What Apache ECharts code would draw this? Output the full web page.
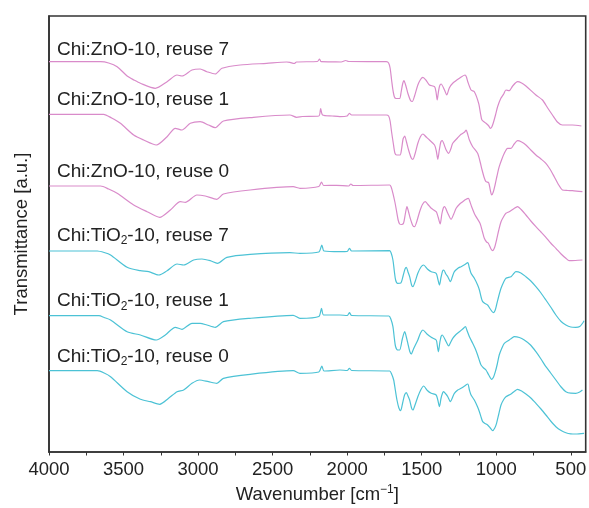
<!DOCTYPE html>
<html>
<head>
<meta charset="utf-8">
<script src="https://cdn.jsdelivr.net/npm/echarts@6/dist/echarts.min.js"></script>
<style>
  html, body { margin: 0; padding: 0; background: #fff; }
  #chart { width: 589px; height: 508px; }
</style>
</head>
<body>
<div id="chart"></div>
<script>
// Tick labels (wavenumber, cm^-1)
const majorTicks = [4000, 3500, 3000, 2500, 2000, 1500, 1000, 500];
const allTicks = [4000, 3750, 3500, 3250, 3000, 2750, 2500, 2250, 2000, 1750, 1500, 1250, 1000, 750, 500];

// Series labels
const seriesNames = [
  'Chi:ZnO-10, reuse 7',
  'Chi:ZnO-10, reuse 1',
  'Chi:ZnO-10, reuse 0',
  'Chi:TiO{sub|2}-10, reuse 7',
  'Chi:TiO{sub|2}-10, reuse 1',
  'Chi:TiO{sub|2}-10, reuse 0'
];

// Spectra: [wavenumber, transmittance (a.u., offset-stacked)]
const zno7 = [[4000,390.3],[3654,390.3],[3600,389],[3543,385.3],[3476,376],[3430,372],[3387,368.7],[3287,363.7],[3208,370.3],[3141,377],[3108,376],[3041,382],[2986,383],[2941,380.3],[2885,378],[2840,383.7],[2718,387],[2540,388.7],[2406,390],[2384,389.7],[2355,388.5],[2340,390],[2200,390.5],[2185,393],[2175,390.3],[2100,390.2],[2040,390],[2010,391.5],[1990,390.5],[1737,390.3],[1722,389],[1712,384],[1702,372],[1693,362],[1683,355],[1672,353.5],[1648,353.5],[1638,360],[1628,368],[1619,371.3],[1606,366],[1593,358.7],[1575,351.5],[1563,350.5],[1548,356],[1526,367],[1508,372.5],[1492,374.7],[1470,371.5],[1448,367],[1414,365.3],[1404,360],[1396,352],[1388,360],[1380,366],[1370,368],[1347,362],[1332,357],[1315,364],[1292,368.7],[1247,373.7],[1209,377],[1200,375],[1191,370.3],[1169,362],[1147,360.3],[1118,348.7],[1105,338],[1096,332],[1069,328.7],[1050,326],[1040,323.7],[1030,325],[1020,329],[1005,337],[991,345.3],[969,353.7],[950,358],[935,362],[913,361.3],[890,366],[857,370.3],[830,369],[801,366],[734,357],[690,352],[655,344],[623,337],[590,330],[556,327],[489,327],[429,326]];

const zno1 = [[4000,337.7],[3634,337.7],[3580,334],[3521,328.7],[3432,317],[3365,312],[3280,307],[3208,315.3],[3153,323.7],[3108,322],[3052,328.7],[2986,330.3],[2930,327],[2885,324.3],[2830,331],[2629,334.7],[2384,337],[2339,334.7],[2300,335.5],[2190,336],[2178,343.5],[2165,337],[2100,336],[2049,335.3],[2000,336],[1985,338.7],[1970,337],[1737,337],[1722,336],[1712,331],[1702,320],[1690,308],[1680,299],[1668,297],[1645,297],[1635,303],[1625,313],[1614,316],[1602,310],[1588,302],[1570,294],[1559,292.7],[1545,298],[1526,308.7],[1508,315.5],[1492,318],[1470,315],[1448,312],[1414,307],[1402,301],[1392,292.7],[1382,302],[1372,310],[1363,311.3],[1336,302],[1319,298.7],[1305,303],[1292,308.7],[1260,314],[1236,317.7],[1212,320],[1202,322],[1192,318],[1180,312],[1158,305.3],[1125,298.7],[1108,290],[1095,282],[1080,274],[1069,270.3],[1051,269.3],[1040,262],[1031,257],[1020,260],[1008,267],[995,276],[980,285.3],[962,293],[946,298.7],[924,303.7],[901,303.7],[880,308],[857,311.3],[830,310],[801,307],[768,302],[734,297],[700,293],[667,288.7],[640,283],[611,275.3],[585,268],[556,262],[520,261.5],[489,261.3],[422,260.3]];

const zno0 = [[4000,266],[3654,266],[3600,263],[3543,258.7],[3432,247],[3342,240.3],[3258,234.7],[3186,242],[3119,250.3],[3086,249.7],[3008,257],[2952,256],[2874,252.7],[2830,258],[2651,262],[2362,265.3],[2317,263.7],[2190,265.5],[2172,270],[2158,266.5],[2071,266.7],[1990,266],[1975,268],[1960,266.5],[1715,267],[1705,265],[1693,258.7],[1680,250],[1670,242],[1658,232],[1648,228],[1635,227.5],[1622,228.7],[1610,238],[1599,245.3],[1588,240],[1577,233.7],[1560,226.5],[1548,225.3],[1532,231],[1514,240.3],[1495,247.5],[1476,250.3],[1455,247],[1436,243.7],[1403,240.3],[1390,235],[1376,228],[1365,238],[1355,244],[1347,245.3],[1325,238.7],[1303,232.7],[1285,238],[1269,243.7],[1245,248],[1225,250.3],[1205,252.5],[1187,253.7],[1176,250],[1165,245.3],[1142,237],[1109,228.7],[1092,220],[1080,213.7],[1065,210],[1053,208.7],[1035,203],[1024,201.3],[1010,205],[998,212],[983,222],[968,230.3],[950,235.5],[935,238.7],[913,240.3],[885,243],[857,245.3],[830,242],[801,237],[768,231],[734,225.3],[700,220],[667,214.7],[635,209],[600,203.7],[565,198],[533,193.7],[511,191.3],[470,191.5],[422,192]];

const tio7 = [[4000,201],[3676,201],[3630,199.5],[3587,197],[3476,184.7],[3387,181.3],[3331,180.3],[3264,177],[3208,181.3],[3141,188],[3097,187],[3030,192],[2974,193],[2919,191.3],[2870,188.7],[2807,194.7],[2651,197.7],[2384,199.3],[2317,198.7],[2190,200],[2170,207],[2155,201],[2049,200.3],[2000,200.5],[1985,203.7],[1970,201],[1715,201.3],[1705,199],[1693,192],[1683,180],[1675,172],[1662,168.7],[1640,169],[1625,176],[1612,183],[1603,184.7],[1592,180],[1581,175.3],[1568,167],[1559,165.3],[1545,170],[1526,178.7],[1505,185],[1487,187],[1462,183],[1436,180.3],[1403,178.7],[1392,173],[1381,167],[1370,175],[1360,181],[1352,182],[1338,178],[1325,175.3],[1307,170.3],[1295,175],[1281,180.3],[1255,184],[1236,185.3],[1210,187.5],[1191,189.3],[1180,184],[1169,178.7],[1147,173.7],[1125,167],[1113,162],[1100,154],[1091,150.3],[1075,148.5],[1058,147],[1040,143],[1020,139.3],[1008,141.5],[998,147],[983,156],[968,163.7],[950,170],[935,173.7],[901,175.3],[885,178],[868,180.3],[835,179],[801,175.3],[768,171],[734,165.3],[700,159],[667,152],[635,145],[600,137],[565,130.5],[533,127],[500,125],[467,124.7],[440,125.5],[420,129],[411,131.3]];

const tio1 = [[4000,136.3],[3665,136.3],[3630,134.5],[3587,132],[3476,120.3],[3387,117],[3280,112],[3220,117],[3153,124.7],[3108,122.7],[3041,128.7],[2986,128.7],[2941,127],[2885,124.7],[2830,130.3],[2651,133.7],[2362,136.7],[2317,133.7],[2190,135.5],[2172,143.7],[2158,137],[2049,137],[2000,136.5],[1985,139.3],[1970,136.5],[1720,136],[1707,133],[1693,125.3],[1683,113],[1675,105.3],[1660,102],[1648,102],[1630,113],[1614,120.3],[1603,115],[1593,108.7],[1580,100.5],[1570,98],[1555,103],[1526,112],[1508,119],[1492,122],[1465,118],[1436,114.7],[1403,112],[1395,106],[1388,100.3],[1378,110],[1370,115.5],[1363,117],[1336,110.3],[1319,106],[1305,110],[1292,113.7],[1270,117.5],[1247,120.3],[1225,123],[1207,125.3],[1195,121],[1180,115.3],[1158,108.7],[1140,103],[1125,97],[1112,91],[1102,87],[1085,84],[1069,82],[1050,77],[1031,72.7],[1018,75],[1006,80.3],[993,88],[980,97],[962,104],[946,108.7],[913,112],[895,114],[879,115.3],[845,114.5],[812,112],[770,107],[734,100.3],[700,93],[667,85.3],[635,79],[600,72],[565,65],[533,60.3],[500,58.8],[467,58.7],[440,60],[422,62]];

const tio0 = [[4000,81.3],[3676,81.3],[3630,79],[3587,75.3],[3476,60.3],[3387,52.7],[3320,50.3],[3258,47.7],[3198,53.7],[3141,60.3],[3097,62],[3041,68.7],[2990,72],[2930,70.3],[2874,68.7],[2830,73.7],[2651,77.7],[2362,81.3],[2317,78.7],[2190,80],[2170,86],[2155,81],[2049,82],[2000,81.5],[1985,83.7],[1970,81.5],[1715,81],[1702,78],[1688,72],[1677,62],[1666,52],[1653,44],[1641,41.3],[1628,49],[1615,57],[1603,59.3],[1592,56],[1581,52],[1568,44],[1559,42],[1545,47],[1526,55.3],[1505,62.5],[1487,66],[1462,61.5],[1436,58.7],[1403,57],[1392,52],[1381,45.3],[1370,54],[1360,59],[1354,60.3],[1338,58],[1325,55.3],[1307,50.3],[1295,54],[1281,58.7],[1258,62],[1236,63.7],[1212,66],[1191,68],[1180,62],[1169,57],[1147,52],[1125,45],[1113,40.3],[1100,34],[1091,30.3],[1075,28.5],[1058,27],[1040,24],[1024,21.3],[1010,24],[998,28.7],[983,38],[968,47],[950,52.5],[935,55.3],[901,58],[880,60.5],[857,62.7],[830,61],[801,58],[768,54],[734,48.7],[700,43],[667,37],[635,31],[600,25.3],[565,21.5],[533,19.3],[500,18.2],[467,18],[411,18.7]];

const seriesData = [zno7, zno1, zno0, tio7, tio1, tio0];
const pink = '#d98bca';
const cyan = '#4cc2d5';
const seriesColors = [pink, pink, pink, cyan, cyan, cyan];
const labelTops = [51, 101.7, 173.3, 237.3, 302.7, 358.3];

const FONT = '"Liberation Sans", Arial, Helvetica, sans-serif';
const chart = echarts.init(document.getElementById('chart'), null, { renderer: 'canvas' });

const richStyles = {
  sub: { fontSize: 12, fontFamily: FONT, fill: '#222', padding: [10, 0, 0, 0] }
};

chart.setOption({
  animation: false,
  backgroundColor: '#fff',
  grid: { left: 49, right: 3.3, top: 16, bottom: 56, outerBoundsMode: 'none', containLabel: false, show: true, borderColor: '#333', borderWidth: 1.6, backgroundColor: 'transparent' },
  xAxis: {
    type: 'value',
    min: 400,
    max: 4000,
    inverse: true,
    name: 'Wavenumber [cm{sup|\u22121}]',
    nameLocation: 'middle',
    nameGap: 32,
    nameTextStyle: {
      fontSize: 18.5, color: '#222', fontFamily: FONT,
      rich: { sup: { fontSize: 12, color: '#222', fontFamily: FONT, padding: [0, 0, 9, 0] } }
    },
    axisLine: { show: true, onZero: false, lineStyle: { color: '#333', width: 1.6 } },
    axisTick: { show: true, inside: false, length: 3.5, customValues: allTicks, lineStyle: { color: '#333', width: 1 } },
    axisLabel: { customValues: majorTicks, formatter: v => String(v), fontSize: 18.5, color: '#222', fontFamily: FONT, margin: 8 },
    splitLine: { show: false },
    minorTick: { show: false }
  },
  yAxis: {
    type: 'value',
    min: 0,
    max: 436,
    name: 'Transmittance [a.u.]',
    nameLocation: 'middle',
    nameGap: 18,
    nameTextStyle: { fontSize: 18.5, color: '#222', fontFamily: FONT },
    axisLine: { show: true, lineStyle: { color: '#333', width: 1.6 } },
    axisTick: { show: false },
    axisLabel: { show: false },
    splitLine: { show: false }
  },
  series: seriesData.map((d, i) => ({
    type: 'line',
    data: d,
    showSymbol: false,
    smooth: 0.25,
    lineStyle: { color: seriesColors[i], width: 1.2 },
    itemStyle: { color: seriesColors[i] },
    clip: true
  })),
  graphic: seriesNames.map((name, i) => ({
    type: 'text',
    left: 57,
    top: labelTops[i] - 11,
    style: {
      text: name,
      fontSize: 19,
      fontFamily: FONT,
      fill: '#222',
      rich: richStyles
    }
  }))
});
</script>
</body>
</html>
